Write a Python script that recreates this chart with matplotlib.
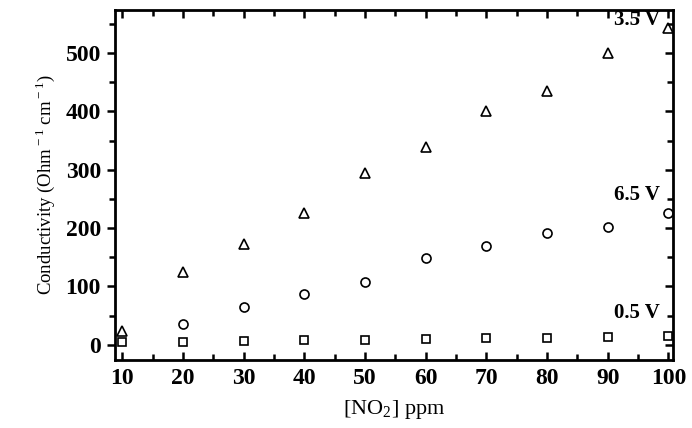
import numpy as np
import matplotlib.pyplot as plt
import matplotlib.lines as mlines
from matplotlib.ticker import MultipleLocator

plt.rcParams.update({
    'font.family': 'serif',
    'font.serif': ['Liberation Serif', 'DejaVu Serif'],
    'mathtext.fontset': 'custom',
    'mathtext.rm': 'Liberation Serif',
})

# ========== DATA ==========
no2_ppm = [10, 20, 30, 40, 50, 60, 70, 80, 90, 100]
cond_35V = [24, 125, 173, 226, 295, 339, 400, 435, 500, 543]
cond_65V_x = [20, 30, 40, 50, 60, 70, 80, 90, 100]
cond_65V = [36, 65, 87, 108, 149, 170, 192, 202, 226]
cond_05V = [4, 5, 6, 8, 9, 10, 11, 12, 13, 15]

labels = ['3.5 V', '6.5 V', '0.5 V']
label_y = [556, 257, 55]

# ========== PLOT ==========
fig = plt.figure(figsize=(6.92, 4.28), dpi=100)
ax = fig.add_axes([0.166, 0.159, 0.807, 0.818])

mk = dict(linestyle='none', markerfacecolor='none', markeredgecolor='black',
          markeredgewidth=1.2)
ax.plot(no2_ppm, cond_35V, marker='^', markersize=7, **mk)
ax.plot(cond_65V_x, cond_65V, marker='o', markersize=6.5, **mk)
ax.plot(no2_ppm, cond_05V, marker='s', markersize=5.5, **mk)

for lab, yy in zip(labels, label_y):
    ax.text(98.6, yy, lab, ha='right', va='center', fontsize=15,
            fontweight='bold')

ax.set_xlim(8.8, 100.8)
ax.set_ylim(-26, 574)
ax.xaxis.set_major_locator(MultipleLocator(10))
ax.xaxis.set_minor_locator(MultipleLocator(5))
ax.yaxis.set_major_locator(MultipleLocator(100))
ax.yaxis.set_minor_locator(MultipleLocator(50))

for s in ax.spines.values():
    s.set_linewidth(2)

# bottom/top ticks inward, left outward
ax.tick_params(axis='x', which='both', direction='in', top=True,
               labelsize=17, width=1.8, pad=6)
ax.tick_params(axis='y', which='both', direction='out', left=True,
               right=True, labelsize=17, width=1.8, pad=4)
ax.tick_params(which='major', length=6)
ax.tick_params(which='minor', length=4)
for lbl in ax.get_xticklabels() + ax.get_yticklabels():
    lbl.set_fontweight('bold')

ax.set_xlabel(r'[NO$_2$] ppm', fontsize=16, labelpad=6)
ax.set_ylabel(r'Conductivity (Ohm$^{\rm -1}$ cm$^{\rm -1}$)', fontsize=13.5,
              labelpad=6)

# flip the right-hand ticks so they point into the plot
fig.canvas.draw()
for t in ax.yaxis.get_major_ticks() + ax.yaxis.get_minor_ticks():
    t.tick2line.set_marker(mlines.TICKLEFT)

plt.savefig('out.png', dpi=100)
